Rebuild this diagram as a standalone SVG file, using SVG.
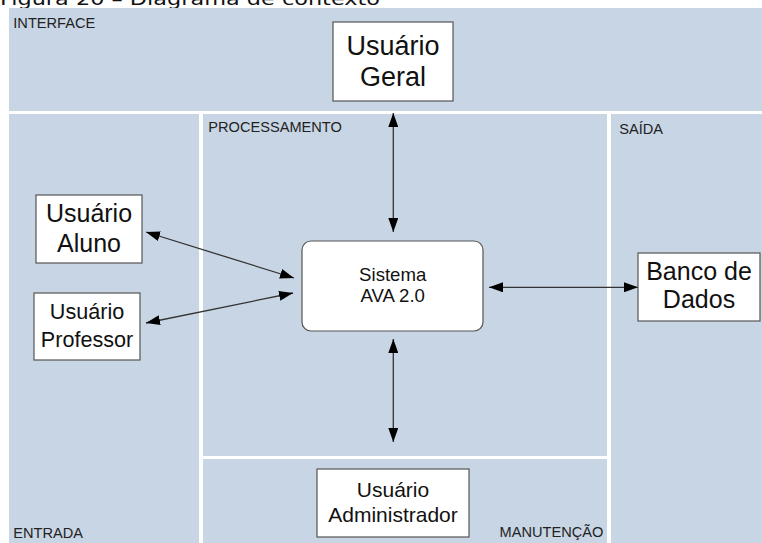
<svg xmlns="http://www.w3.org/2000/svg" width="762" height="543" viewBox="0 0 762 543">
<style>
.panel{fill:#c8d5e4}
.box{fill:#ffffff;stroke:#555555;stroke-width:1.2}
.lbl{font-family:"Liberation Sans",Arial,sans-serif;font-size:14.6px;fill:#222222}
.big{font-family:"Liberation Sans",Arial,sans-serif;fill:#111111;text-anchor:middle}
.conn{stroke:#333333;stroke-width:1.3;fill:none;marker-start:url(#ah);marker-end:url(#ah)}
</style>
<defs>
<marker id="ah" markerUnits="userSpaceOnUse" markerWidth="14" markerHeight="10" refX="14" refY="5" orient="auto-start-reverse" viewBox="0 0 14 10">
<path d="M0,0 L14,5 L0,10 z" fill="#000000"/>
</marker>
</defs>
<rect x="0" y="0" width="762" height="543" fill="#ffffff"/>
<text x="0" y="4.5" font-family="'DejaVu Sans',Verdana,sans-serif" font-size="18" fill="#111111" textLength="380" lengthAdjust="spacingAndGlyphs">Figura 20 – Diagrama de contexto</text>

<g id="panels">
<rect class="panel" x="9" y="8" width="753" height="103"/>
<rect class="panel" x="9" y="114" width="190" height="429"/>
<rect class="panel" x="203" y="114" width="404" height="342"/>
<rect class="panel" x="203" y="459" width="404" height="84"/>
<rect class="panel" x="611" y="114" width="151" height="429"/>
<text class="lbl" x="13.3" y="27.7">INTERFACE</text>
<text class="lbl" x="208.3" y="132.3">PROCESSAMENTO</text>
<text class="lbl" x="619.3" y="133.5">SAÍDA</text>
<text class="lbl" x="13.3" y="537.5">ENTRADA</text>
<text class="lbl" x="499.6" y="536.7">MANUTENÇÃO</text>
</g>

<g id="connectors">
<line class="conn" x1="393.3" y1="232" x2="393.3" y2="113"/>
<line class="conn" x1="393.3" y1="339" x2="393.3" y2="442"/>
<line class="conn" x1="489" y1="287.3" x2="638" y2="287.3"/>
<line class="conn" x1="294" y1="278" x2="146" y2="232"/>
<line class="conn" x1="293" y1="293" x2="146" y2="323"/>
</g>

<g id="usuario-geral">
<rect class="box" x="333" y="22" width="120" height="79"/>
<text class="big" x="393" y="55" font-size="27">Usuário</text>
<text class="big" x="393" y="86" font-size="27">Geral</text>
</g>

<g id="usuario-aluno">
<rect class="box" x="36" y="195" width="106" height="68"/>
<text class="big" x="89" y="221.7" font-size="25">Usuário</text>
<text class="big" x="89" y="251.7" font-size="25">Aluno</text>
</g>

<g id="usuario-professor">
<rect class="box" x="34" y="293" width="106" height="67"/>
<text class="big" x="87" y="319.3" font-size="21.6">Usuário</text>
<text class="big" x="87" y="346.7" font-size="21.6">Professor</text>
</g>

<g id="sistema">
<rect class="box" x="302" y="241" width="181" height="90" rx="9" ry="9"/>
<text class="big" x="392.7" y="281" font-size="18.6">Sistema</text>
<text class="big" x="392.7" y="302" font-size="18.6">AVA 2.0</text>
</g>

<g id="banco-de-dados">
<rect class="box" x="638" y="253" width="122" height="68"/>
<text class="big" x="699" y="280" font-size="25">Banco de</text>
<text class="big" x="699" y="308" font-size="25">Dados</text>
</g>

<g id="usuario-administrador">
<rect class="box" x="317" y="469" width="152" height="68"/>
<text class="big" x="393" y="496.7" font-size="21">Usuário</text>
<text class="big" x="393" y="521.7" font-size="21">Administrador</text>
</g>
</svg>
